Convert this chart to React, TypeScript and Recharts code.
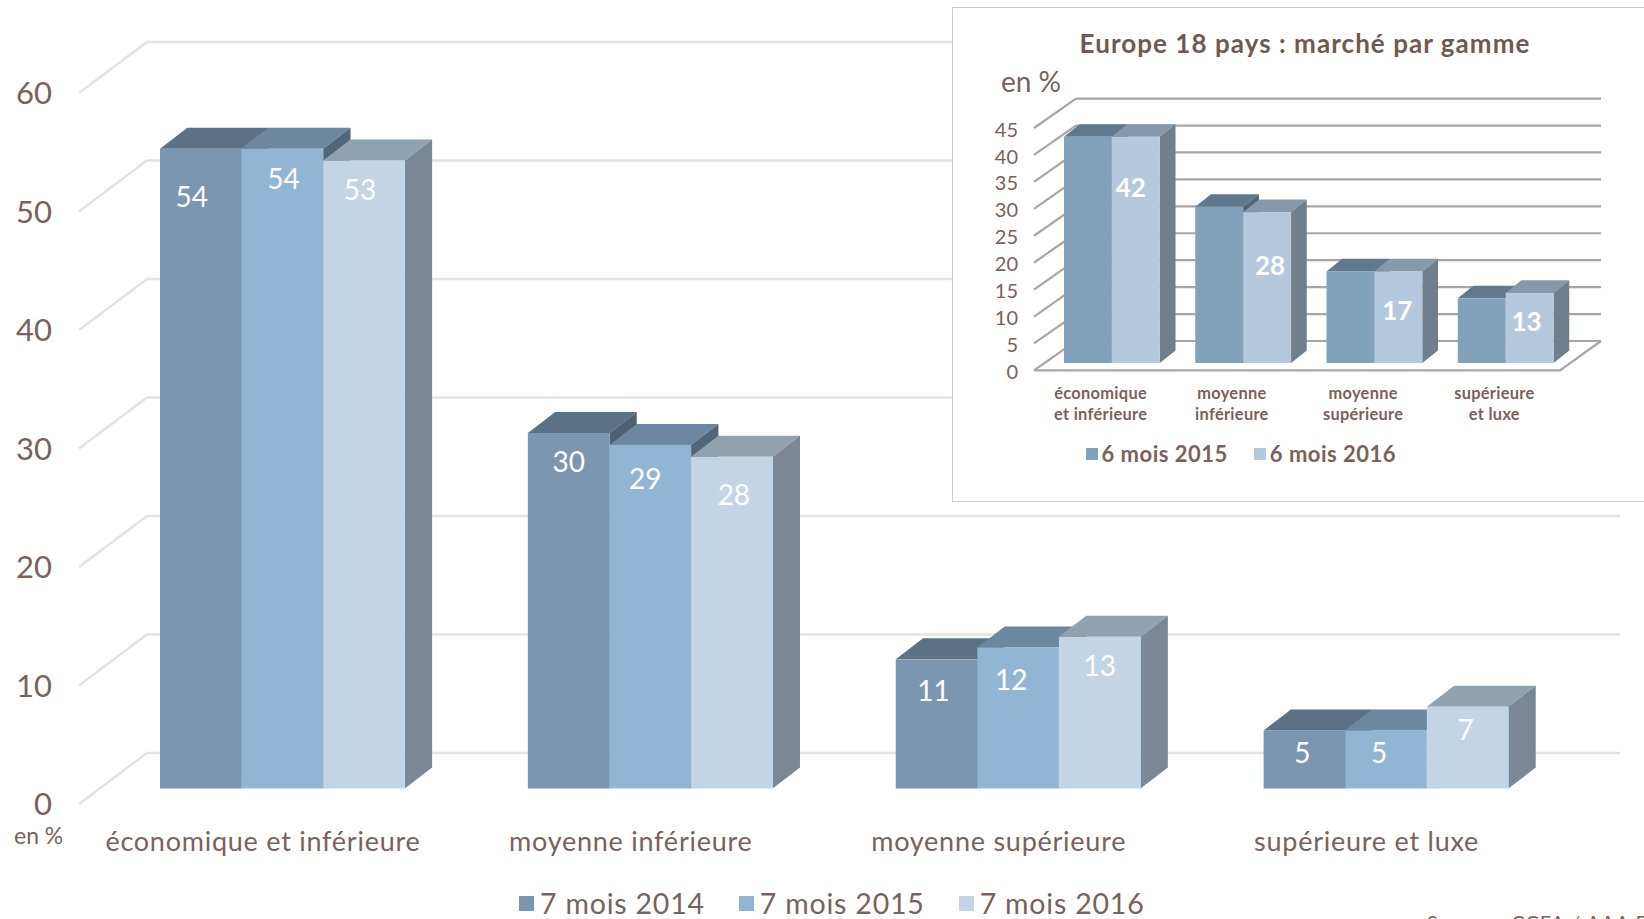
import React from "react";
import { BarChart, Bar, XAxis, YAxis, CartesianGrid, LabelList, Legend } from "recharts";

const categories = ["économique et inférieure", "moyenne inférieure", "moyenne supérieure", "supérieure et luxe"];
const months2014 = [54, 30, 10.9, 4.9];
const months2015 = [54, 29, 11.9, 4.9];
const months2016 = [53, 28, 12.8, 6.9];
const yTicks = [0, 10, 20, 30, 40, 50, 60];

const insetCategories = [["économique", "et inférieure"], ["moyenne", "inférieure"], ["moyenne", "supérieure"], ["supérieure", "et luxe"]];
const half2015 = [42, 29, 17, 12];
const half2016 = [42, 28, 17, 13];
const insetTicks = [0, 5, 10, 15, 20, 25, 30, 35, 40, 45];

// Hand-placed label nudges of the original: [dx from bar centre, dy from bar top]
const nudge2014 = [[-9, 49], [0, 29], [-3, 32], [-2, 23]];
const nudge2015 = [[1, 31], [-5, 34], [-7, 33], [-7, 23]];
const nudge2016 = [[-4, 30], [2, 38], [0, 29], [-2, 23]];
const nudgeInset = [[-5, 51], [3, 54], [-1, 39], [-3, 29]];

const FONT = "Lato, 'Open Sans', sans-serif";
const BROWN = "#7a625a";

const make3D = (front: string, top: string, side: string, dx: number, dy: number) => (p: any) => {
  const { x, y, width, height } = p;
  const r = x + width;
  const b = y + height;
  return (
    <g>
      <polygon points={`${x},${y} ${x + dx},${y - dy} ${r + dx},${y - dy} ${r},${y}`} fill={top} />
      <polygon points={`${r},${y} ${r + dx},${y - dy} ${r + dx},${b - dy} ${r},${b}`} fill={side} />
      <rect x={x} y={y} width={width} height={height} fill={front} />
    </g>
  );
};

const makeLabel = (nudges: number[][], size: number, weight: number) => (p: any) => {
  const { x, y, width, value, index } = p;
  const [dx, dy] = nudges[index];
  return (
    <text x={x + width / 2 + dx} y={y + dy} dy="0.35em" textAnchor="middle" fill="#fff"
      fontFamily={FONT} fontSize={size} fontWeight={weight}>{Math.round(value)}</text>
  );
};

const makeWall = (cfg: { back: number; up: number; depth: number; drop: number; right: number; color: string; w: number; floorEnd?: number }) => (p: any) => {
  const { y1, x1, index } = p;
  const wy = y1 - cfg.up;
  const left = x1 + cfg.back;
  return (
    <g key={`w${index}`} stroke={cfg.color} strokeWidth={cfg.w} fill="none">
      <line x1={left} y1={wy} x2={cfg.right} y2={wy} />
      <line x1={left} y1={wy} x2={left - cfg.depth} y2={wy + cfg.drop} />
      {cfg.floorEnd !== undefined && index === 0 ? (
        <polyline points={`${left - cfg.depth},${wy + cfg.drop} ${cfg.floorEnd},${wy + cfg.drop} ${cfg.right},${wy}`} />
      ) : null}
    </g>
  );
};

const legendContent = (size: number, weight: number, box: number, gap: number, spacing: number, boxGap: number) => (p: any) => (
  <div style={{ display: "flex", gap, fontFamily: FONT, fontSize: size, lineHeight: `${size}px`, fontWeight: weight, color: BROWN, letterSpacing: spacing, whiteSpace: "nowrap", alignItems: "center" }}>
    {p.payload.map((e: any) => (
      <span key={e.value} style={{ display: "flex", alignItems: "center", gap: boxGap }}>
        <span style={{ width: box, height: box, background: e.color, display: "inline-block" }} />
        {e.value}
      </span>
    ))}
  </div>
);

const MainXTick = (p: any) => (
  <text x={p.x - 19} y={p.y} dy={54} textAnchor="middle" fill={BROWN} fontFamily={FONT} fontSize={27} letterSpacing={0.75}>
    {p.payload.value}
  </text>
);
const MainYTick = (p: any) => (
  <text x={52} y={p.y + 16} dy="0.35em" textAnchor="end" fill={BROWN} fontFamily={FONT} fontSize={31}>{p.payload.value}</text>
);
const InsetXTick = (p: any) => {
  const lines = insetCategories[p.index];
  return (
    <text x={p.x - 11} y={p.y} textAnchor="middle" fill={BROWN} fontFamily={FONT} fontSize={16.4} fontWeight={700} letterSpacing={0.3}>
      <tspan x={p.x - 11} dy={28}>{lines[0]}</tspan>
      <tspan x={p.x - 11} dy={21}>{lines[1]}</tspan>
    </text>
  );
};
const InsetYTick = (p: any) => (
  <text x={66} y={p.y + 9} dy="0.35em" textAnchor="end" fill={BROWN} fontFamily={FONT} fontSize={20}>{p.payload.value}</text>
);

const mainData = categories.map((c, i) => ({ c, a: months2014[i], b: months2015[i], d: months2016[i] }));
const insetData = categories.map((c, i) => ({ c, a: half2015[i], b: half2016[i] }));

export default function App() {
  return (
    <div style={{ position: "absolute", left: 0, top: 0, width: 1644, height: 919, overflow: "hidden", background: "#fff" }}>
      <BarChart width={1644} height={919} data={mainData} barSize={81.6} barGap={0}
        margin={{ top: 77.6, right: 74.5, bottom: 129.5, left: 0 }}>
        <CartesianGrid vertical={false}
          horizontal={makeWall({ back: 49, up: 35.6, depth: 68, drop: 51, right: 1620, color: "#e3e3e3", w: 2.5 }) as any} />
        <XAxis dataKey="c" height={1} axisLine={false} tickLine={false} tick={MainXTick as any} interval={0} />
        <YAxis width={98} domain={[0, 60]} ticks={yTicks} axisLine={false} tickLine={false} tick={MainYTick as any} />
        <Legend layout="horizontal" verticalAlign="middle" align="center" content={legendContent(28.5, 400, 15, 34, 0.8, 6) as any}
          wrapperStyle={{ left: 519, top: 889, width: "auto" }} />
        <Bar dataKey="a" name="7 mois 2014" fill="#7b96b0" isAnimationActive={false} shape={make3D("#7b96b0", "#5b7286", "#4e6274", 27.3, 21) as any}>
          <LabelList dataKey="a" content={makeLabel(nudge2014, 28, 400) as any} />
        </Bar>
        <Bar dataKey="b" name="7 mois 2015" fill="#93b5d4" isAnimationActive={false} shape={make3D("#93b5d4", "#6c87a0", "#50677b", 27.3, 21) as any}>
          <LabelList dataKey="b" content={makeLabel(nudge2015, 28, 400) as any} />
        </Bar>
        <Bar dataKey="d" name="7 mois 2016" fill="#c3d4e6" isAnimationActive={false} shape={make3D("#c3d4e6", "#90a2b0", "#7b8794", 27.3, 21) as any}>
          <LabelList dataKey="d" content={makeLabel(nudge2016, 28, 400) as any} />
        </Bar>
      </BarChart>

      <div style={{ position: "absolute", left: 14, top: 821, fontFamily: FONT, fontSize: 23, color: BROWN }}>en %</div>
      <div style={{ position: "absolute", left: 1427, top: 910, fontFamily: FONT, fontSize: 20, color: BROWN, whiteSpace: "nowrap", letterSpacing: 1 }}>Source : CCFA / AAA Data</div>

      <div style={{ position: "absolute", left: 952, top: 7, width: 692, height: 495, boxSizing: "border-box", background: "#fff", borderLeft: "1.5px solid #bcd0e2", borderTop: "1.5px solid #bcd0e2", borderBottom: "1.5px solid #bcd0e2" }}>
        <BarChart width={692} height={495} data={insetData} barSize={47.9} barGap={0} style={{ position: "absolute", left: -1.5, top: -1.5 }}
          margin={{ top: 113.6, right: 73, bottom: 138, left: 0 }}>
          <CartesianGrid vertical={false}
            horizontal={makeWall({ back: 30, up: 22, depth: 42, drop: 29.4, right: 649, color: "#a6a6a6", w: 2.2, floorEnd: 608 }) as any} />
          <XAxis dataKey="c" height={1} axisLine={false} tickLine={false} tick={InsetXTick as any} interval={0} />
          <YAxis width={94} domain={[0, 45]} ticks={insetTicks} axisLine={false} tickLine={false} tick={InsetYTick as any} />
          <Legend layout="horizontal" verticalAlign="middle" align="center" content={legendContent(22, 700, 12, 26, 0.5, 4) as any}
            wrapperStyle={{ left: 134, top: 436, width: "auto" }} />
          <Bar dataKey="a" name="6 mois 2015" fill="#82a2bc" isAnimationActive={false} shape={make3D("#82a2bc", "#60798f", "#4f6577", 15.7, 12.6) as any} />
          <Bar dataKey="b" name="6 mois 2016" fill="#b4c9de" isAnimationActive={false} shape={make3D("#b4c9de", "#8499ab", "#717f8c", 15.7, 12.6) as any}>
            <LabelList dataKey="b" content={makeLabel(nudgeInset, 26, 700) as any} />
          </Bar>
        </BarChart>
        <div style={{ position: "absolute", left: 0, top: 19, textAlign: "center", width: 704, fontFamily: FONT, fontWeight: 700, fontSize: 26, color: "#6f5a52", letterSpacing: 1.05, whiteSpace: "nowrap" }}>Europe 18 pays : marché par gamme</div>
        <div style={{ position: "absolute", left: 48, top: 56, fontFamily: FONT, fontSize: 28, color: BROWN }}>en %</div>
      </div>
    </div>
  );
}
